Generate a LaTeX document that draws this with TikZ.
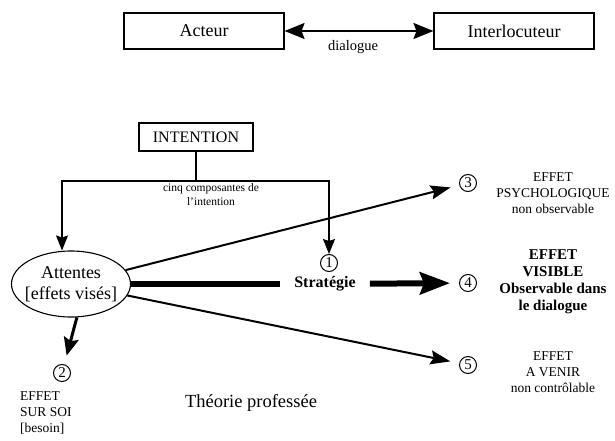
\documentclass[tikz,border=0pt]{standalone}
\usepackage{fontspec}
\setmainfont{Liberation Serif}
\usepackage{tikz}
\usetikzlibrary{arrows.meta,shapes.geometric}
\tikzset{
  box/.style={draw, line width=1.1pt, minimum width=160pt, minimum height=36pt, inner sep=0pt, font=\fontsize{18}{20}\selectfont},
  smallLbl/.style={font=\fontsize{14.5}{16}\selectfont, inner sep=0pt},
  tinyLbl/.style={font=\fontsize{11.5}{14}\selectfont, align=center, inner sep=0pt},
  numc/.style={draw, circle, line width=1pt, minimum size=17pt, inner sep=0pt, font=\fontsize{15}{15}\selectfont},
  effLbl/.style={font=\fontsize{13.5}{16}\selectfont, align=center, inner sep=0pt},
  thinArrow/.style={line width=1.2pt, -{Stealth[length=15pt,width=12pt,inset=2pt]}},
  dialArrow/.style={line width=2pt, {Stealth[length=20pt,width=16pt,inset=3pt]}-{Stealth[length=20pt,width=16pt,inset=3pt]}},
  fanLine/.style={line width=2pt, shorten >=9pt, -{Stealth[length=20pt,width=14pt,inset=3pt]}},
  heavyLine/.style={line width=6pt},
  heavyArrow/.style={line width=6pt, shorten >=9pt, -{Stealth[length=30pt,width=22pt,inset=4pt]}},
  midArrow/.style={line width=3pt, shorten >=9pt, -{Stealth[length=18pt,width=15pt,inset=3pt]}},
}

\begin{document}
\begin{tikzpicture}[x=1pt, y=-1pt, every node/.style={text=black}]
  \useasboundingbox (0,0) rectangle (615,441);

  % top row
  \node[box] (acteur) at (204,31) {Acteur};
  \node[box] (interloc) at (514,31) {Interlocuteur};
  \draw[dialArrow] (acteur) -- (interloc);
  \node[smallLbl] (dialogue) at (353,47) {dialogue};

  % intention and its two branches
  \node[box, minimum width=114pt, minimum height=28pt, font=\fontsize{16}{18}\selectfont] (intention) at (196,137) {INTENTION};
  \coordinate (split) at (intention.south |- 0,181);
  \coordinate (jl) at (62,181);
  \node[tinyLbl] (cinq) at (211,195) {cinq composantes de\\l'intention};

  \node[draw, ellipse, line width=1.1pt, minimum width=119pt, minimum height=66pt, inner xsep=-10pt, inner ysep=0pt,
        align=center, font=\fontsize{18}{21}\selectfont] (attentes) at (71,284) {Attentes\\{}[effets visés]};
  \node[numc] (c1) at (329,263) {1};
  \node[font=\bfseries\fontsize{16}{18}\selectfont, inner ysep=0pt, inner xsep=14pt] (strat) at (325,284) {Stratégie};
  \node[numc] (c2) at (62,373) {2};
  \node[numc] (c3) at (468,183) {3};
  \node[numc] (c4) at (468,283) {4};
  \node[numc] (c5) at (468,365) {5};

  \draw[line width=1.2pt] (intention) -- (split);
  \draw[thinArrow] (split) -- (jl) -- (jl |- attentes.north);
  \draw[thinArrow] (split) -| (c1);

  % effects
  \draw[fanLine] (attentes) -- (c3);
  \draw[heavyLine] (attentes) -- (strat);
  \draw[heavyArrow] (strat) -- (c4);
  \draw[fanLine] (attentes) -- (c5);
  \draw[midArrow] (attentes.-80) -- (c2);

  \node[effLbl] (eff3) at (553,193) {EFFET\\PSYCHOLOGIQUE\\non observable};
  \node[effLbl, font=\bfseries\fontsize{15}{17}\selectfont] (eff4) at (553,282) {EFFET\\VISIBLE\\Observable dans\\le dialogue};
  \node[effLbl] (eff5) at (553,372) {EFFET\\A VENIR\\non contrôlable};
  \node[effLbl, align=left, anchor=west] (eff2) at (20,413) {EFFET\\SUR SOI\\{}[besoin]};
  \node[font=\fontsize{18.5}{20}\selectfont] (theorie) at (251,403) {Théorie professée};
\end{tikzpicture}
\end{document}
